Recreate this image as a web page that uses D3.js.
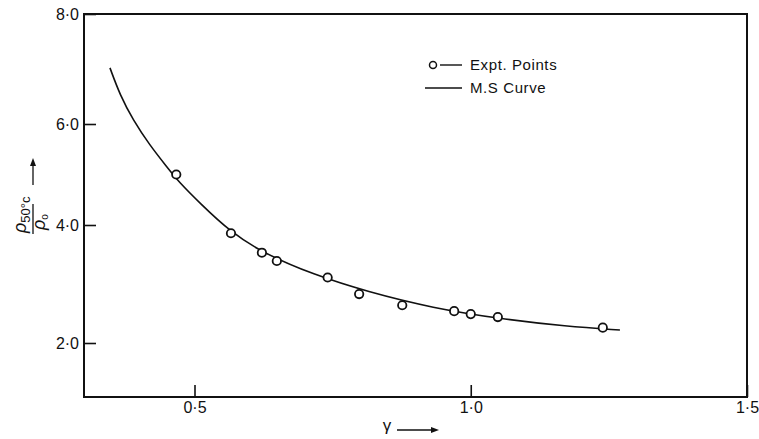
<!DOCTYPE html>
<html>
<head>
<meta charset="utf-8">
<script src="https://cdn.jsdelivr.net/npm/d3@7"></script>
<style>
	body{ margin:0; background:#fff; }
	svg text{ font-family:"Liberation Sans", Arial, sans-serif; fill:#111; }
</style>
</head>
<body>
<svg id="chart" width="759" height="439"></svg>
<script>
'use strict'

// experimental points, gamma vs rho(50C)/rho0
var exptX = [0.467, 0.566, 0.622, 0.649, 0.741, 0.798, 0.876, 0.970, 1.000, 1.049, 1.239];
var exptY = [5.00, 3.86, 3.53, 3.39, 3.11, 2.83, 2.64, 2.54, 2.49, 2.44, 2.26];

// M.S curve
var curveX = [0.347, 0.365, 0.389, 0.419, 0.450, 0.471, 0.510, 0.564, 0.625, 0.715, 0.812, 0.932, 1.053, 1.174, 1.270];
var curveY = [7.02, 6.53, 6.07, 5.58, 5.15, 4.86, 4.43, 3.89, 3.52, 3.16, 2.87, 2.59, 2.41, 2.28, 2.22];

var xTicks = [0.5, 1.0, 1.5];
var yTicks = [2, 4, 6, 8];

function fmt(v){
	return v.toFixed(1).replace('.', '\u00b7');
}

function draw(){
	var svg = d3.select('#chart');
	var left = 84, right = 747, top = 14, bottom = 397;

	var x = d3.scaleLinear().domain([0.3, 1.5]).range([left, right]);
	// the printed axis is not quite even, so follow its tick marks
	var y = d3.scaleLinear().domain([1, 2, 4, 6, 8]).range([bottom, 343, 225, 124, top]);

	svg.append('g')
		.attr('transform', `translate(0,${bottom})`)
		.call(d3.axisBottom(x).tickValues(xTicks).tickFormat(fmt).tickSizeInner(-12).tickSizeOuter(0).tickPadding(5))
		.call(function(g){
			g.select('.domain').remove();
			g.selectAll('line').attr('stroke', '#111').attr('stroke-width', 1.6);
			g.selectAll('text').attr('font-size', 16).attr('fill', '#111');
		});

	svg.append('g')
		.attr('transform', `translate(${left},0)`)
		.call(d3.axisLeft(y).tickValues(yTicks).tickFormat(fmt).tickSizeInner(-12).tickSizeOuter(0).tickPadding(5))
		.call(function(g){
			g.select('.domain').remove();
			g.selectAll('line').attr('stroke', '#111').attr('stroke-width', 1.6);
			g.selectAll('text').attr('font-size', 16).attr('fill', '#111');
		});

	svg.append('rect')
		.attr('x', left).attr('y', top)
		.attr('width', right-left).attr('height', bottom-top)
		.attr('fill', 'none').attr('stroke', '#111').attr('stroke-width', 2);

	var line = d3.line()
		.x(function(d){ return x(d[0]); })
		.y(function(d){ return y(d[1]); })
		.curve(d3.curveBasis);

	svg.append('path')
		.attr('d', line(d3.zip(curveX, curveY)))
		.attr('fill', 'none')
		.attr('stroke', '#111')
		.attr('stroke-width', 1.6);

	svg.append('g')
		.selectAll('circle')
		.data(d3.zip(exptX, exptY))
		.join('circle')
		.attr('cx', function(d){ return x(d[0]); })
		.attr('cy', function(d){ return y(d[1]); })
		.attr('r', 4.2)
		.attr('fill', '#fff')
		.attr('stroke', '#111')
		.attr('stroke-width', 1.8);

	// legend
	var lg = svg.append('g');
	lg.append('circle').attr('cx', 433).attr('cy', 65).attr('r', 3.5)
		.attr('fill', '#fff').attr('stroke', '#111').attr('stroke-width', 1.5);
	lg.append('line').attr('x1', 440).attr('x2', 462).attr('y1', 65).attr('y2', 65)
		.attr('stroke', '#111').attr('stroke-width', 1.4);
	lg.append('text').attr('x', 470).attr('y', 70).attr('font-size', 15).attr('letter-spacing', 0.6).text('Expt. Points');
	lg.append('line').attr('x1', 425).attr('x2', 462).attr('y1', 88).attr('y2', 88)
		.attr('stroke', '#111').attr('stroke-width', 1.4);
	lg.append('text').attr('x', 470).attr('y', 93).attr('font-size', 15).attr('letter-spacing', 0.6).text('M.S Curve');

	// y label: rho_50C / rho_0 with arrow, turned on its side
	var yl = svg.append('g').attr('transform', 'rotate(-90)');
	var num = yl.append('text').attr('x', -233).attr('y', 26).attr('font-size', 18).attr('font-style', 'italic');
	num.append('tspan').text('\u03c1');
	num.append('tspan').attr('dy', 4).attr('font-size', 13).attr('font-style', 'normal').text('50\u00b0c');
	yl.append('line').attr('x1', -234).attr('x2', -204).attr('y1', 33).attr('y2', 33)
		.attr('stroke', '#111').attr('stroke-width', 1.3);
	var den = yl.append('text').attr('x', -230).attr('y', 45).attr('font-size', 18).attr('font-style', 'italic');
	den.append('tspan').text('\u03c1');
	den.append('tspan').attr('dy', 3).attr('font-size', 10).attr('font-style', 'normal').text('o');
	yl.append('line').attr('x1', -185).attr('x2', -164).attr('y1', 33).attr('y2', 33)
		.attr('stroke', '#111').attr('stroke-width', 1.3);
	yl.append('path').attr('d', 'M-158,33 L-166,30 L-166,36 Z').attr('fill', '#111');

	// x label
	svg.append('text').attr('x', 387).attr('y', 431).attr('font-size', 17).attr('text-anchor', 'middle').text('\u03b3');
	svg.append('line').attr('x1', 397).attr('x2', 432).attr('y1', 430).attr('y2', 430)
		.attr('stroke', '#111').attr('stroke-width', 1.3);
	svg.append('path').attr('d', 'M439,430 L431,427 L431,433 Z').attr('fill', '#111');
}

draw();
</script>
</body>
</html>
